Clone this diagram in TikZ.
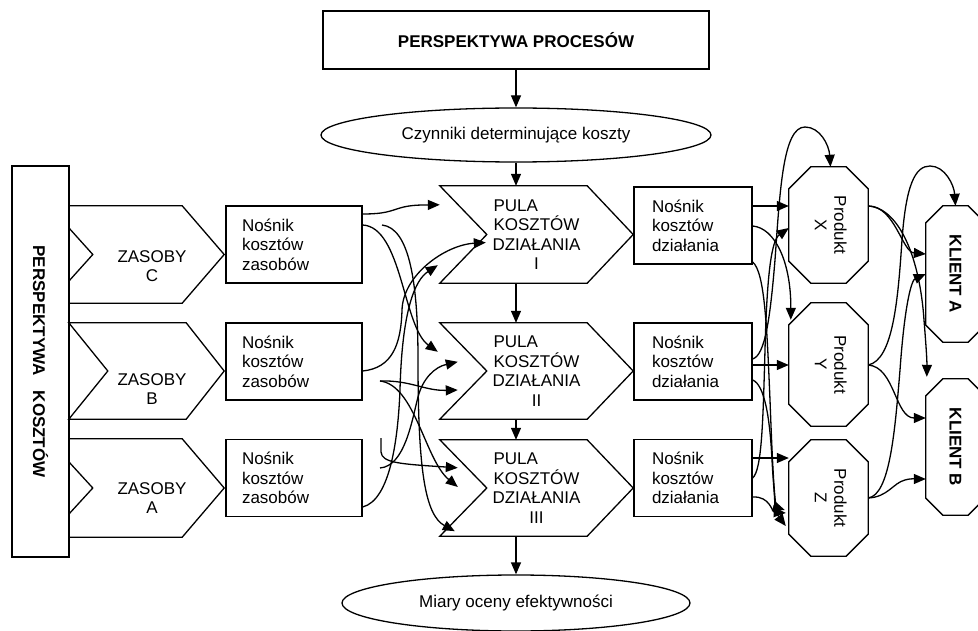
\documentclass[tikz,border=0pt]{standalone}
\usepackage{fontspec}
\setmainfont{Liberation Sans}
\usepackage{graphicx}
\usepackage{calc}
\usetikzlibrary{arrows.meta,shapes.geometric,calc}

% arrow-shaped outline round a node: tip length, notch depth, notch inset
\newcommand{\chevronpath}[4]{%
  \draw[thickline] (#1.north west) -- ([xshift=-#2]#1.north east) -- (#1.east)
    -- ([xshift=-#2]#1.south east) -- (#1.south west) -- ([yshift=#4]#1.south west)
    -- ([xshift=#3]#1.west) -- ([yshift=-#4]#1.north west) -- cycle;}
% octagon outline round a node with corner cut #2
\newcommand{\octpath}[2]{%
  \draw[thickline] ([xshift=#2]#1.north west) -- ([xshift=-#2]#1.north east)
    -- ([yshift=-#2]#1.north east) -- ([yshift=#2]#1.south east)
    -- ([xshift=-#2]#1.south east) -- ([xshift=#2]#1.south west)
    -- ([yshift=#2]#1.south west) -- ([yshift=-#2]#1.north west) -- cycle;}
\newcommand{\pulahead}{\makebox[\widthof{KOSZTÓW}][l]{PULA}}

\begin{document}
\begin{tikzpicture}[x=1pt,y=-1pt,
  every node/.style={font=\fontsize{17}{19.5}\selectfont, inner sep=0pt},
  thickline/.style={line width=1.3pt, line join=miter},
  boxed/.style={draw, thickline, rectangle},
  nbox/.style={boxed, minimum height=77pt, align=left, inner xsep=16pt, text width=104pt},
  dbox/.style={boxed, minimum height=77pt, align=left, inner xsep=18pt, text width=82pt},
  oval/.style={draw, thickline, ellipse},
  shapebox/.style={rectangle},
  txt/.style={align=center},
  link/.style={line width=1.3pt, -{Triangle[length=12pt,width=10pt]}}
]
\path[fill=white, use as bounding box] (0,0) rectangle (978,631);

% top: processes
\node[boxed, minimum width=386pt, minimum height=58pt,
      font=\fontsize{17}{19.5}\selectfont\bfseries] (pp) at (516,40) {PERSPEKTYWA PROCESÓW};
\node[oval, minimum width=390pt, minimum height=54pt] (czyn) at (516,135) {Czynniki determinujące koszty};

% left: costs perspective
\node[boxed, minimum width=57pt, minimum height=391pt] (pk) at (40.5,361.5)
  {\rotatebox{-90}{\bfseries PERSPEKTYWA\hspace{15pt}KOSZTÓW}};

% resources
\node[shapebox, minimum width=155pt, minimum height=97pt] (zc) at (146.5,254.5) {};
\node[shapebox, minimum width=155pt, minimum height=96pt] (zb) at (146.5,371) {};
\node[shapebox, minimum width=155pt, minimum height=98pt] (za) at (146.5,488) {};
\chevronpath{zc}{42pt}{24pt}{22pt}
\chevronpath{zb}{38pt}{39pt}{0pt}
\chevronpath{za}{42pt}{24pt}{23pt}
\node[txt] (zct) at (152,266) {ZASOBY\\C};
\node[txt] (zbt) at (152,389) {ZASOBY\\B};
\node[txt] (zat) at (152,498) {ZASOBY\\A};

% resource cost drivers
\node[nbox] (nzc) at (294,244.5) {Nośnik\\kosztów\\zasobów};
\node[nbox] (nzb) at (294,361.5) {Nośnik\\kosztów\\zasobów};
\node[nbox] (nza) at (294,478) {Nośnik\\kosztów\\zasobów};

% activity cost pools
\node[shapebox, txt, minimum width=193pt, minimum height=97pt] (puI) at (536.5,234.5)
  {\pulahead\\KOSZTÓW\\DZIAŁANIA\\I};
\node[shapebox, txt, minimum width=193pt, minimum height=96pt] (puII) at (536.5,371)
  {\pulahead\\KOSZTÓW\\DZIAŁANIA\\II};
\node[shapebox, txt, minimum width=193pt, minimum height=96pt] (puIII) at (536.5,488)
  {\pulahead\\KOSZTÓW\\DZIAŁANIA\\III};
\chevronpath{puI}{46pt}{47pt}{0pt}
\chevronpath{puII}{46pt}{47pt}{0pt}
\chevronpath{puIII}{46pt}{47pt}{0pt}

% activity cost drivers
\node[dbox] (ndI) at (693,225.5) {Nośnik\\kosztów\\działania};
\node[dbox] (ndII) at (693,361.5) {Nośnik\\kosztów\\działania};
\node[dbox] (ndIII) at (693,478) {Nośnik\\kosztów\\działania};

% products
\node[shapebox, minimum width=79pt, minimum height=116pt] (prX) at (828.5,225)
  {\rotatebox{-90}{\begin{tabular}{@{}c@{}}Produkt\\X\end{tabular}}};
\node[shapebox, minimum width=79pt, minimum height=123pt] (prY) at (828.5,364.5)
  {\rotatebox{-90}{\begin{tabular}{@{}c@{}}Produkt\\Y\end{tabular}}};
\node[shapebox, minimum width=79pt, minimum height=116pt] (prZ) at (828.5,498)
  {\rotatebox{-90}{\begin{tabular}{@{}c@{}}Produkt\\Z\end{tabular}}};
\octpath{prX}{22pt}
\octpath{prY}{22pt}
\octpath{prZ}{22pt}

% customers
\node[shapebox, minimum width=59pt, minimum height=136pt] (klA) at (955.5,274)
  {\rotatebox{-90}{\bfseries KLIENT A}};
\node[shapebox, minimum width=59pt, minimum height=136pt] (klB) at (955.5,447)
  {\rotatebox{-90}{\bfseries KLIENT B}};
\octpath{klA}{17pt}
\octpath{klB}{17pt}

% bottom: performance measures
\node[oval, minimum width=348pt, minimum height=56pt] (miary) at (516,603) {Miary oceny efektywności};

% main vertical flow
\draw[link] (pp.south) -- (czyn.north);
\draw[link] (czyn.south) -- (czyn.south |- puI.north);
\draw[link] (puI.south -| czyn.south) -- (puII.north -| czyn.south);
\draw[link] (puII.south -| czyn.south) -- (puIII.north -| czyn.south);
\draw[link] (puIII.south -| czyn.south) -- (miary.north);

% loose starts of resource links
\coordinate (fa) at (382,225);
\coordinate (fb) at (380,381);
\coordinate (fc) at (381,438);
\coordinate (fd) at (380,468);
% entry points at the cost pools
\coordinate (t1) at ($(puI.north west)+(0,19)$);
\coordinate (t2) at ($(puI.west)+(46,8)$);
\coordinate (t3) at ($(puI.south west)+(-2,-18)$);
\coordinate (t4) at ($(puII.north west)+(-2,29)$);
\coordinate (t5) at ($(puII.north west)+(18,39)$);
\coordinate (t6) at ($(puII.west)+(18,19)$);
\coordinate (t7) at ($(puIII.north west)+(18,28)$);
\coordinate (t8) at ($(puIII.west)+(18,-1)$);
\coordinate (t9) at ($(puIII.south west)+(15,-5)$);

% resources -> cost pools
\draw[link] (nzc.east |- 0,214) .. controls (385,214) and (390,211) .. (400,208)
  .. controls (410,205) and (420,205) .. (t1);
\draw[link] (nzc.east |- 0,225) .. controls (402,227) and (403,327) .. (t4);
\draw[link] (fa) .. controls (410,228) and (418,285) .. (418,360)
  .. controls (418,470) and (425,515) .. (t9);
\draw[link] (nzb.east |- 0,371) .. controls (392,368) and (401,345) .. (402,310)
  .. controls (403,275) and (445,245) .. (t2);
\draw[link] (nza.east |- 0,507) .. controls (390,500) and (398,440) .. (400,390)
  .. controls (402,310) and (415,280) .. (t3);
\draw[link] (fd) .. controls (405,466) and (412,420) .. (418,397)
  .. controls (423,378) and (435,367) .. (t5);
\draw[link] (fb) .. controls (410,380) and (425,391) .. (t6);
\draw[link] (fb) .. controls (415,385) and (425,460) .. (t8);
\draw[link] (fc) -- (381,452) .. controls (382,463) and (400,464) .. (t7);

% entry points at the products
\coordinate (u2) at ($(prY.north west)+(2,17)$);
\coordinate (u3) at ($(prZ.west)+(-3,28)$);
\coordinate (u5) at ($(prX.north)+(2,0)$);
\coordinate (u6) at ($(prZ.west)+(-4,12)$);
\coordinate (u8) at ($(prX.west)+(0,3)$);
\coordinate (u9) at ($(prZ.west)+(-3,15)$);

% activities -> products
\draw[link] (ndI.east |- 0,206) -- (prX.west |- 0,206);
\draw[link] (ndI.east |- 0,226) .. controls (775,228) and (791,262) .. (u2);
\draw[link] (ndI.east |- 0,262) .. controls (765,272) and (767,330) .. (770,400)
  .. controls (773,480) and (775,512) .. (u3);
\draw[link] (ndII.east |- 0,365) -- (prY.west |- 0,365);
\draw[link] (ndII.east |- 0,359) .. controls (765,355) and (770,320) .. (775,260)
  .. controls (780,190) and (783,127) .. (805,127)
  .. controls (820,127) and (829,145) .. (u5);
\draw[link] (ndII.east |- 0,380) .. controls (765,385) and (770,420) .. (772,460)
  .. controls (774,495) and (776,507) .. (u6);
\draw[link] (ndIII.east |- 0,458) -- (prZ.west |- 0,458);
\draw[link] (ndIII.east |- 0,478) .. controls (762,470) and (763,420) .. (765,350)
  .. controls (767,270) and (772,240) .. (u8);
\draw[link] (ndIII.east |- 0,497) .. controls (770,496) and (772,512) .. (u9);

% entry points at the customers
\coordinate (v1) at ($(klA.west)+(0,-20)$);
\coordinate (v2) at ($(klB.north west)+(1,-2)$);
\coordinate (v4) at ($(klB.west)+(0,-29)$);
\coordinate (v5) at ($(klB.west)+(0,32)$);

% products -> customers
\draw[link] (prX.east |- 0,206) .. controls (895,206) and (902,252) .. (v1);
\draw[link] (prX.east |- 0,206) .. controls (900,208) and (920,260) .. (924,320)
  .. controls (926,345) and (927,360) .. (v2);
\draw[link] (prY.east |- 0,365) .. controls (893,360) and (898,300) .. (902,240)
  .. controls (906,185) and (915,166) .. (930,166)
  .. controls (945,166) and (954,185) .. (klA.north);
\draw[link] (prY.east |- 0,365) .. controls (895,367) and (895,418) .. (v4);
\draw[link] (prZ.east |- 0,498) .. controls (888,497) and (893,483) .. (905,480)
  .. controls (912,478) and (918,479) .. (v5);
\draw[link] (prZ.east |- 0,498) .. controls (890,495) and (895,430) .. (900,370)
  .. controls (905,300) and (912,280) .. (klA.west);
\end{tikzpicture}
\end{document}
